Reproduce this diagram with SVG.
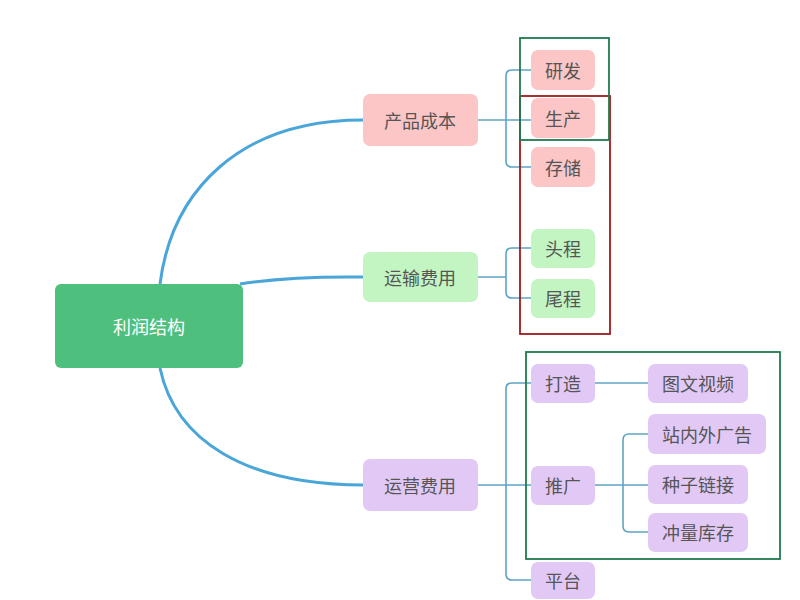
<svg xmlns="http://www.w3.org/2000/svg" width="800" height="600" viewBox="0 0 800 600">
<style>
text{font-family:"Noto Sans CJK SC","Noto Sans",sans-serif;fill:#555;text-anchor:middle;dominant-baseline:central;font-size:18px}
.p{fill:#fcc6c6}.g{fill:#c3f5c3}.v{fill:#e2c9f5}
.main{fill:none;stroke:#4aa6d8;stroke-width:3}
.sub{fill:none;stroke:#5fa3c4;stroke-width:1.6}
.box{fill:none;stroke-width:1.8}
</style>
<rect width="800" height="600" fill="#fff"/>
<g id="connectors">
<path class="main" d="M160,284 C172,190 240,120 363,120"/>
<path class="main" d="M240,284 Q290,276 363,277"/>
<path class="main" d="M160,368 C175,440 245,485 363,485"/>
<path class="sub" d="M478,120 H531 M531,70 H512 Q506,70 506,76 V161 Q506,167 512,167 H531"/>
<path class="sub" d="M478,277 H506 M531,248 H512 Q506,248 506,254 V292 Q506,298 512,298 H531"/>
<path class="sub" d="M478,485 H531 M531,383 H512 Q506,383 506,389 V574 Q506,580 512,580 H531"/>
<path class="sub" d="M595,383 H648"/>
<path class="sub" d="M595,485 H648 M648,434 H629 Q623,434 623,440 V526 Q623,532 629,532 H648"/>
</g>
<g id="root"><rect x="55" y="284" width="188" height="84" rx="6" fill="#4fbf7e"/><text x="149" y="326" font-size="36" style="fill:#fff">利润结构</text></g>
<g id="n1"><rect class="p" x="363" y="94" width="115" height="52" rx="7"/><text x="420" y="120">产品成本</text></g>
<g id="n2"><rect class="g" x="363" y="252" width="115" height="50" rx="7"/><text x="420" y="277">运输费用</text></g>
<g id="n3"><rect class="v" x="363" y="459" width="115" height="52" rx="7"/><text x="420" y="485">运营费用</text></g>
<g id="n11"><rect class="p" x="531" y="50" width="64" height="40" rx="7"/><text x="563" y="70">研发</text></g>
<g id="n12"><rect class="p" x="531" y="98" width="64" height="40" rx="7"/><text x="563" y="118">生产</text></g>
<g id="n13"><rect class="p" x="531" y="147" width="64" height="40" rx="7"/><text x="563" y="167">存储</text></g>
<g id="n21"><rect class="g" x="531" y="229" width="64" height="39" rx="7"/><text x="563" y="248">头程</text></g>
<g id="n22"><rect class="g" x="531" y="279" width="64" height="39" rx="7"/><text x="563" y="298">尾程</text></g>
<g id="n31"><rect class="v" x="531" y="364" width="64" height="39" rx="7"/><text x="563" y="383">打造</text></g>
<g id="n32"><rect class="v" x="531" y="466" width="64" height="39" rx="7"/><text x="563" y="485">推广</text></g>
<g id="n33"><rect class="v" x="531" y="562" width="64" height="37" rx="7"/><text x="563" y="580">平台</text></g>
<g id="n311"><rect class="v" x="648" y="364" width="100" height="39" rx="7"/><text x="698" y="383">图文视频</text></g>
<g id="n321"><rect class="v" x="648" y="414" width="118" height="40" rx="7"/><text x="707" y="434">站内外广告</text></g>
<g id="n322"><rect class="v" x="648" y="465" width="100" height="39" rx="7"/><text x="698" y="484">种子链接</text></g>
<g id="n323"><rect class="v" x="648" y="513" width="100" height="39" rx="7"/><text x="698" y="532">冲量库存</text></g>
<rect class="box" x="520" y="96" width="90" height="238" stroke="#a01a1a"/>
<rect class="box" x="520" y="38" width="89" height="102" stroke="#1e7a4e"/>
<rect class="box" x="526" y="352" width="254" height="207" stroke="#1e7a4e"/>
</svg>
